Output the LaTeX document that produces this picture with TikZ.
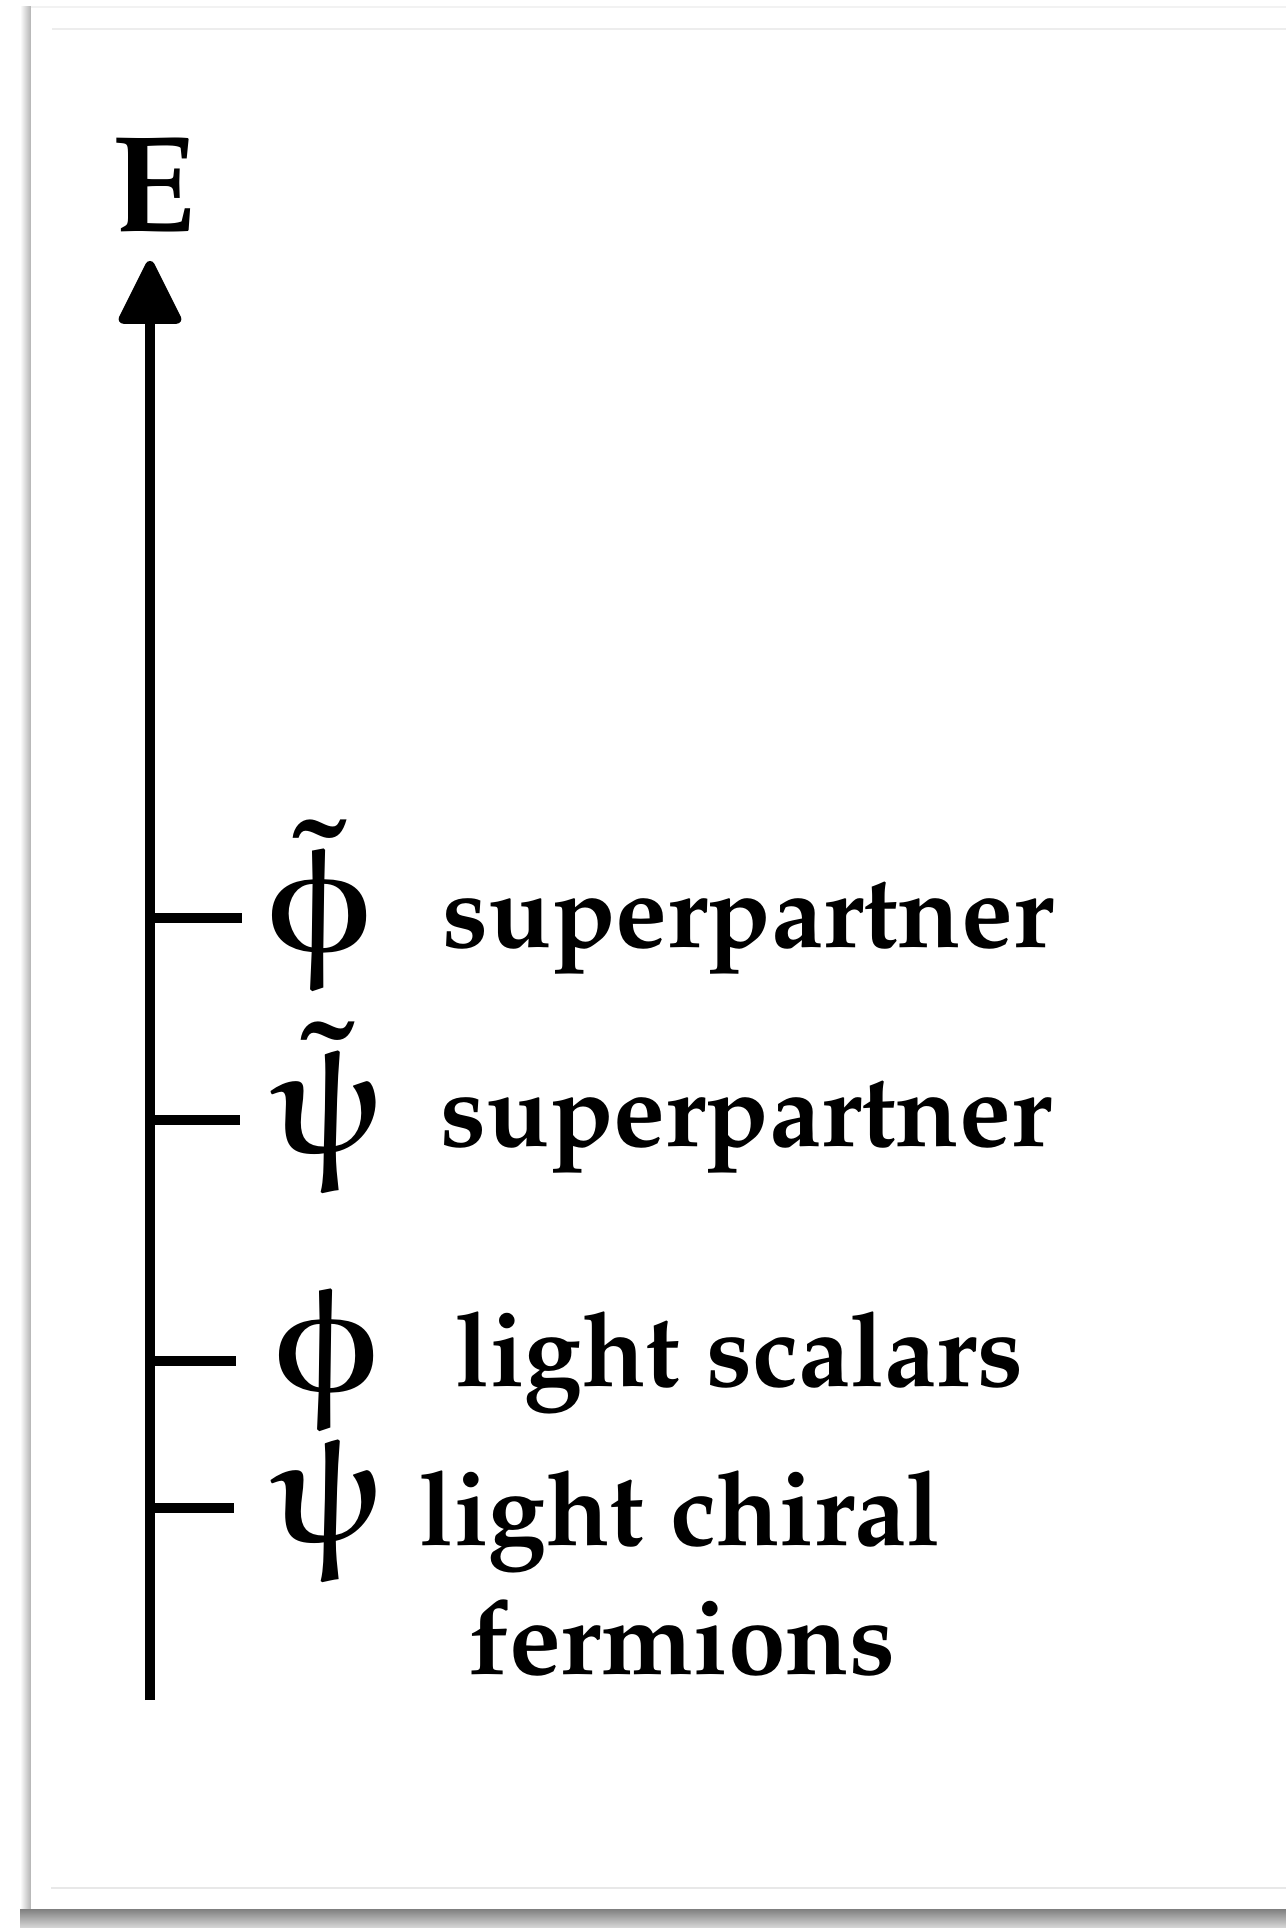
\documentclass[tikz,border=0pt]{standalone}
\usepackage[T1]{fontenc}
\usepackage{pxfonts}
\usetikzlibrary{arrows.meta}
\begin{document}
\begin{tikzpicture}[x=0.01cm,y=-0.01cm,
  axisline/.style={line width=0.95mm, line cap=butt},
  lbl/.style={anchor=base west, inner sep=0pt, font=\fontsize{29.5}{36}\selectfont\bfseries},
  sym/.style={anchor=base west, inner sep=0pt, font=\fontsize{42}{46}\selectfont\boldmath}]
\useasboundingbox (0,0) rectangle (1286,1928);
\fill[white] (0,0) rectangle (1286,1928);
\shade[left color=white, right color=black!30] (20,7) rectangle (31,1909);
\shade[top color=black!50, bottom color=black!15] (20,1909) rectangle (1286,1928);
\fill[white] (31,7) rectangle (1286,1909);
\draw[black!5, line width=0.3pt] (31,7) -- (1286,7);
\draw[black!7, line width=0.4pt] (52,29) -- (1286,29);
\draw[black!9, line width=0.4pt] (51,1888) -- (1286,1888);
% axis
\coordinate (bot) at (150,1700);
\coordinate (top) at (150,261);
\draw[axisline, -{Triangle[width=0.66cm,length=0.69cm,round]}] (bot) -- (top);
\node[anchor=base, inner sep=0pt, font=\fontsize{39}{44}\selectfont\bfseries] (E) at (153,232) {E};
% ticks
\coordinate (a1) at (150,918);  \coordinate (b1) at (242,918);
\coordinate (a2) at (150,1120); \coordinate (b2) at (240,1120);
\coordinate (a3) at (150,1361); \coordinate (b3) at (236,1361);
\coordinate (a4) at (150,1508); \coordinate (b4) at (234,1508);
\draw[axisline] (a1) -- (b1);
\draw[axisline] (a2) -- (b2);
\draw[axisline] (a3) -- (b3);
\draw[axisline] (a4) -- (b4);
% labels
\node[sym] (s1) at (265,950) {$\tilde{\phiup}$};
\node[lbl] (l1) at (442,947) {superpartner};
\node[sym] (s2) at (271,1152) {$\tilde{\psiup}$};
\node[lbl] (l2) at (440,1146) {superpartner};
\node[sym] (s3) at (272,1390) {$\phiup$};
\node[lbl] (l3) at (455,1386) {light scalars};
\node[sym] (s4) at (271,1541) {$\psiup$};
\node[lbl] (l4) at (419,1545) {light chiral};
\node[lbl] (l5) at (468,1674) {fermions};
\end{tikzpicture}
\end{document}
